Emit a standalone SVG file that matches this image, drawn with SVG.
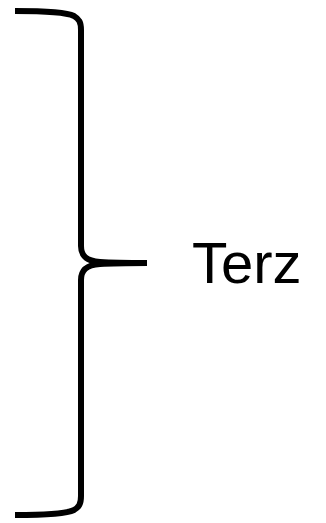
<svg xmlns="http://www.w3.org/2000/svg" width="326" height="523" viewBox="0 0 326 523">
<style>
.brace{fill:none;stroke:#000;stroke-width:6;stroke-linecap:butt;stroke-linejoin:round}
.lbl{font-family:"Liberation Sans",Arial,sans-serif;font-size:58px;fill:#000}
</style>
<rect width="326" height="523" fill="#fff"/>
<g id="brace">
<path class="brace" d="M15,11 C45,11 66,12 74,16 C79,19 81,22 81,30 L81,246 C81,256 86,261 100,262 C115,263 130,263 147,263"/>
<path class="brace" d="M147,263 C130,263 115,263 100,264 C86,265 81,270 81,280 L81,496 C81,504 79,507 74,510 C66,514 45,515 15,515"/>
</g>
<g id="label">
<text class="lbl" x="192" y="283">Terz</text>
</g>
</svg>
